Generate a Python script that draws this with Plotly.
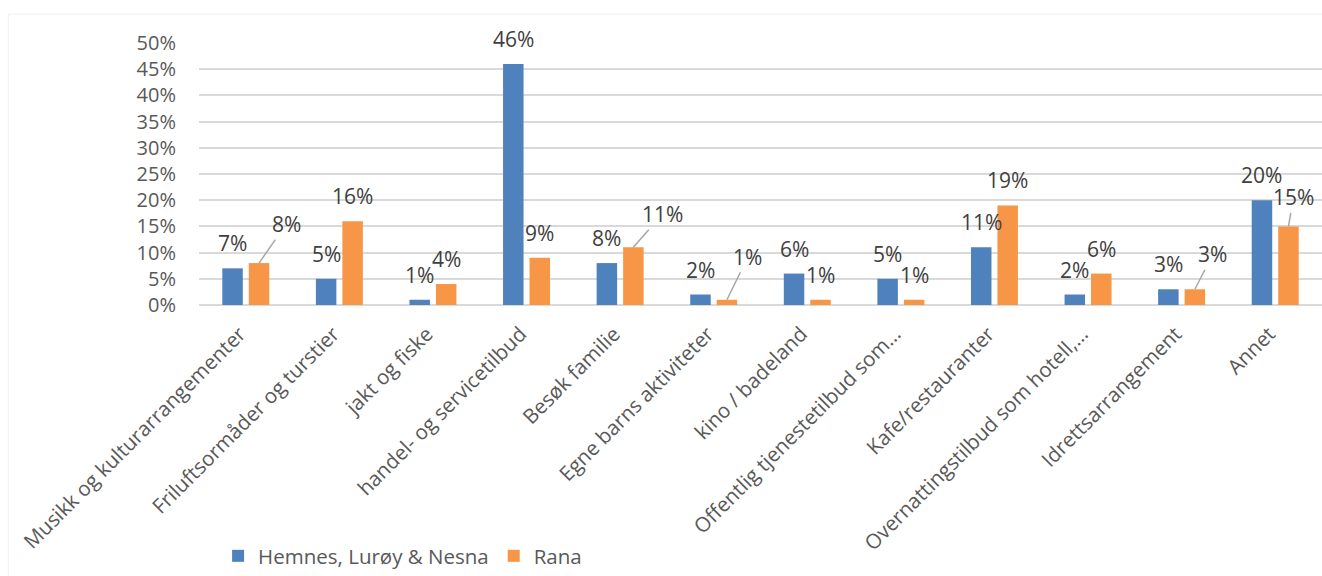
import plotly.graph_objects as go

# Categories and survey shares (percent)
categories = [
    "Musikk og kulturarrangementer",
    "Friluftsormåder og turstier",
    "jakt og fiske",
    "handel- og servicetilbud",
    "Besøk familie",
    "Egne barns aktiviteter",
    "kino / badeland",
    "Offentlig tjenestetilbud som…",
    "Kafe/restauranter",
    "Overnattingstilbud som hotell,…",
    "Idrettsarrangement",
    "Annet",
]
hemnes_pct = [7, 5, 1, 46, 8, 2, 6, 5, 11, 2, 3, 20]
rana_pct = [8, 16, 4, 9, 11, 1, 1, 1, 19, 6, 3, 15]
series_names = ["Hemnes, Lurøy & Nesna", "Rana"]
y_tick_values = [0, 5, 10, 15, 20, 25, 30, 35, 40, 45, 50]

BLUE = "#4F81BD"
ORANGE = "#F79646"
TICK_GRAY = "#595959"
LABEL_GRAY = "#404040"
FONT = "Open Sans"

fig = go.Figure()
fig.add_trace(go.Bar(
    x=categories, y=[v / 100 for v in hemnes_pct], name=series_names[0],
    marker=dict(color=BLUE, line=dict(width=0)),
))
fig.add_trace(go.Bar(
    x=categories, y=[v / 100 for v in rana_pct], name=series_names[1],
    marker=dict(color=ORANGE, line=dict(width=0)),
))

# Data labels: text centred above each bar; a few moved aside with a leader line
BAR_SHIFT = 13.25
DEFAULT_OFFSET = (0, -25)
rana_moved = {0: (27, -39), 4: (29, -33), 5: (21, -43), 10: (18, -35), 11: (5, -29)}

annotations = []
for series_idx, (vals, shift) in enumerate([(hemnes_pct, -BAR_SHIFT), (rana_pct, BAR_SHIFT)]):
    for i, (cat, v) in enumerate(zip(categories, vals)):
        moved = series_idx == 1 and i in rana_moved
        dx, dy = rana_moved[i] if moved else DEFAULT_OFFSET
        annotations.append(dict(
            x=cat, y=v / 100, xref="x", yref="y", xshift=shift,
            text=f"{v}%", showarrow=True, ax=dx, ay=dy,
            axref="pixel", ayref="pixel",
            arrowhead=0, arrowwidth=1.5, standoff=0, startstandoff=0,
            arrowcolor="#A6A6A6" if moved else "rgba(0,0,0,0)",
            font=dict(family=FONT, size=21, color=LABEL_GRAY),
        ))

fig.update_layout(
    width=1322, height=576,
    margin=dict(l=199, r=0, t=43, b=270),
    paper_bgcolor="white", plot_bgcolor="white",
    barmode="group", bargap=0.434, bargroupgap=0.226,
    font=dict(family=FONT, size=20, color=TICK_GRAY),
    showlegend=True,
    legend=dict(
        orientation="h", x=0.017, xanchor="left", y=-0.958, yanchor="middle",
        font=dict(family=FONT, size=20.5, color=TICK_GRAY),
        bgcolor="rgba(0,0,0,0)", itemclick=False,
    ),
    annotations=annotations,
    shapes=[dict(
        type="rect", xref="paper", yref="paper",
        x0=-0.1698, x1=1.05, y0=-1.2, y1=1.11,
        line=dict(color="#F0F0F0", width=1), fillcolor="rgba(0,0,0,0)",
        layer="below",
    )],
)
fig.update_xaxes(
    type="category", tickangle=-45, showgrid=False, showline=False,
    ticks="", ticklabelstandoff=12, ticklabelshift=-6,
    tickfont=dict(family=FONT, size=20.5, color=TICK_GRAY),
)
fig.update_yaxes(
    range=[0, 0.5], tickvals=[t / 100 for t in y_tick_values],
    ticktext=[f"{t}%" for t in y_tick_values],
    showgrid=True, gridcolor="#D9D9D9", gridwidth=1.5,
    zeroline=True, zerolinecolor="#D9D9D9", zerolinewidth=1.5,
    showline=False, ticks="", ticklabelstandoff=22,
    tickfont=dict(family=FONT, size=20, color=TICK_GRAY),
)

fig.write_html("out.html")
